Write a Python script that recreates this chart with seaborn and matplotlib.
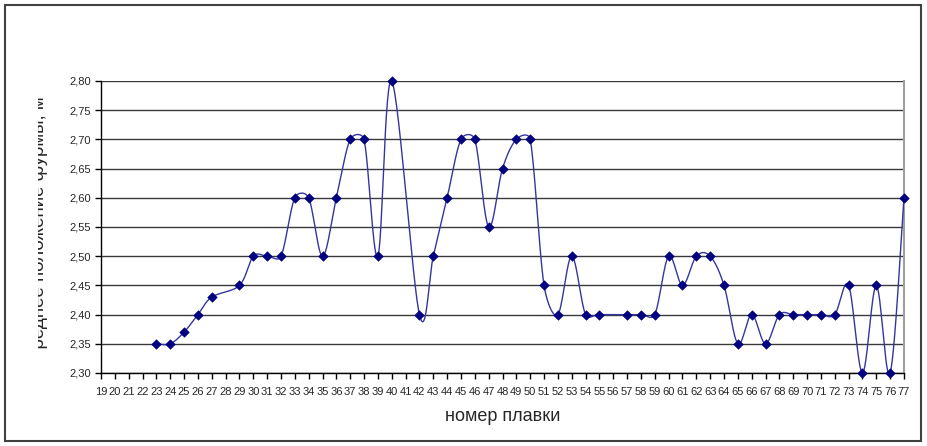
import numpy as np
import pandas as pd
import matplotlib
matplotlib.use('Agg')
import matplotlib.pyplot as plt
import seaborn as sns
from matplotlib.transforms import Bbox
from matplotlib.patches import Rectangle

# номера плавок и среднее положение фурмы
heats = [23, 24, 25, 26, 27, 29, 30, 31, 32, 33, 34, 35, 36, 37, 38, 39, 40,
         42, 43, 44, 45, 46, 47, 48, 49, 50, 51, 52, 53, 54, 55, 57, 58, 59,
         60, 61, 62, 63, 64, 65, 66, 67, 68, 69, 70, 71, 72, 73, 74, 75, 76, 77]
lance = [2.35, 2.35, 2.37, 2.40, 2.43, 2.45, 2.50, 2.50, 2.50, 2.60, 2.60,
         2.50, 2.60, 2.70, 2.70, 2.50, 2.80,
         2.40, 2.50, 2.60, 2.70, 2.70, 2.55, 2.65, 2.70, 2.70, 2.45, 2.40,
         2.50, 2.40, 2.40, 2.40, 2.40, 2.40,
         2.50, 2.45, 2.50, 2.50, 2.45, 2.35, 2.40, 2.35, 2.40, 2.40, 2.40,
         2.40, 2.40, 2.45, 2.30, 2.45, 2.30, 2.60]
x_ticks = list(range(19, 78))
y_ticks = [2.30, 2.35, 2.40, 2.45, 2.50, 2.55, 2.60, 2.65, 2.70, 2.75, 2.80]

df = pd.DataFrame({'heat': heats, 'lance': lance})

# масштаб в пикселях (для сглаживания как в Excel)
SX = 803 / 58
SY = 292 / 0.5


def smooth(x, y, n=30):
    p = np.column_stack([np.asarray(x) * SX, np.asarray(y) * SY]).astype(float)
    p = np.vstack([p[0], p, p[-1]])
    out = []
    for i in range(1, len(p) - 2):
        p0, p1, p2, p3 = p[i - 1], p[i], p[i + 1], p[i + 2]
        d12 = np.linalg.norm(p2 - p1)
        d02 = np.linalg.norm(p2 - p0)
        d13 = np.linalg.norm(p3 - p1)
        f1 = 1 / 6
        f2 = 1 / 6
        if not (d02 / 6 < d12 / 2 and d13 / 6 < d12 / 2):
            if d02 / 6 >= d12 / 2 and d02 > 0:
                f1 = d12 / (2 * d02)
            if d13 / 6 >= d12 / 2 and d13 > 0:
                f2 = d12 / (2 * d13)
        c1 = p1 + f1 * (p2 - p0)
        c2 = p2 - f2 * (p3 - p1)
        t = np.linspace(0, 1, n)[:, None]
        b = ((1 - t) ** 3) * p1 + 3 * ((1 - t) ** 2) * t * c1 \
            + 3 * (1 - t) * t ** 2 * c2 + t ** 3 * p2
        out.append(b)
    b = np.vstack(out)
    return pd.DataFrame({'heat': b[:, 0] / SX, 'lance': b[:, 1] / SY})


curve = smooth(df['heat'], df['lance'])

sns.set_style('white')
plt.rcParams['font.family'] = ['Liberation Sans', 'DejaVu Sans']

fig = plt.figure(figsize=(9.27, 4.46), dpi=100)
ax = fig.add_axes([101 / 927, 73 / 446, 803 / 927, 292 / 446])

for v in y_ticks:
    ax.axhline(v, color='#3a3a3a', lw=1, zorder=1)

sns.lineplot(data=curve, x='heat', y='lance', sort=False, estimator=None,
             color='#3535a0', lw=1, ax=ax, zorder=3)
sns.scatterplot(data=df, x='heat', y='lance', marker='D', s=24,
                color='#000080', edgecolor='#000080', ax=ax, zorder=4,
                clip_on=False)

ax.set_xlim(19, 77)
ax.set_ylim(2.30, 2.80)
ax.set_xticks(x_ticks)
ax.set_xticklabels([str(v) for v in x_ticks], fontsize=8)
ax.set_yticks(y_ticks)
ax.set_yticklabels([f'{v:.2f}'.replace('.', ',') for v in y_ticks], fontsize=8)
ax.tick_params(axis='both', direction='out', length=4, width=1, color='black',
               pad=3, bottom=True, left=True)
ax.tick_params(axis='x', pad=6)
for s in ['left', 'bottom']:
    ax.spines[s].set_color('black')
    ax.spines[s].set_linewidth(1)
ax.spines['top'].set_visible(False)
ax.spines['right'].set_color('#a0a0a0')
ax.spines['right'].set_linewidth(1.5)
ax.set_xlabel('номер плавки', fontsize=13, labelpad=8)
ax.set_ylabel('')

# подпись оси Y обрезана слева, как в исходной картинке
yl = fig.text(44 / 927, 350 / 446, 'Среднее положение фурмы, м', rotation=90,
              ha='right', va='baseline', fontsize=13.5, rotation_mode='anchor')
yl.set_clip_box(Bbox.from_extents(38, 96, 60, 352))
yl.set_clip_on(True)

fig.patches.append(Rectangle((5 / 927, 5 / 446), 916 / 927, 436 / 446,
                             transform=fig.transFigure, fill=False,
                             edgecolor='#404040', lw=1.5))

fig.savefig('out.png', dpi=100)
